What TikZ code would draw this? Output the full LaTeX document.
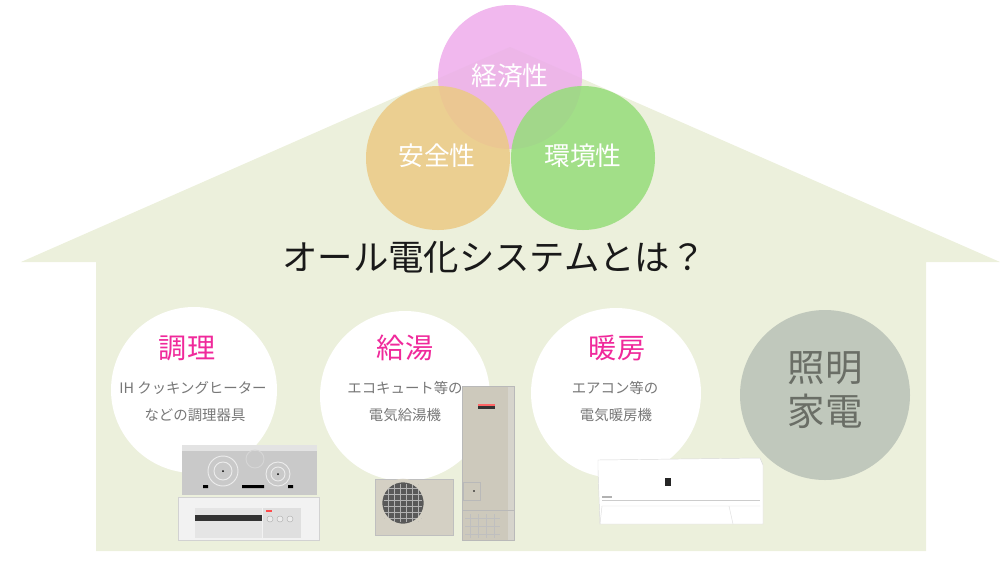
\documentclass[tikz,border=0pt]{standalone}
\usepackage{fontspec}
\setmainfont{Noto Sans CJK JP}
\definecolor{housegreen}{HTML}{ECF0DC}
\definecolor{keizaipink}{HTML}{EEACEB}
\definecolor{anzenorange}{HTML}{EBCA84}
\definecolor{kankyogreen}{HTML}{96DD7A}
\definecolor{headpink}{HTML}{F0299B}
\definecolor{subgray}{HTML}{777777}
\definecolor{lampgray}{HTML}{C0C8BC}
\definecolor{lamptext}{HTML}{6A6E66}
\definecolor{unitbeige}{HTML}{D4D0C4}
\definecolor{tankbeige}{HTML}{CDC9BC}
\tikzset{
  merit/.style={circle, inner sep=0pt, minimum size=4.32cm, fill opacity=0.85, text opacity=1,
    text=white, font=\fontsize{22}{26}\selectfont},
  usecircle/.style={circle, fill=white, inner sep=0pt, minimum size=5.0cm},
  usehead/.style={text=headpink, font=\fontsize{24}{28}\selectfont},
  usesub/.style={text=subgray, font=\fontsize{12.3}{15}\selectfont}
}
\begin{document}
\begin{tikzpicture}[x=0.03cm,y=-0.03cm]
\useasboundingbox (0,0) rectangle (1000,577);
% house
\fill[housegreen] (21,262) -- (510,47) -- (1000,262) -- (926,262) -- (926,551)
  -- (96,551) -- (96,262) -- cycle;

% three merits
\node[merit, fill=keizaipink] (keizai) at (510,77) {};
\node[merit, fill=anzenorange] (anzen) at (438,158) {};
\node[merit, fill=kankyogreen] (kankyo) at (583,158) {};
\node[text=white, font=\fontsize{22}{26}\selectfont] (keizailabel) at (510,76) {経済性};
\node[text=white, font=\fontsize{22}{26}\selectfont] (anzenlabel) at (437,156) {安全性};
\node[text=white, font=\fontsize{22}{26}\selectfont] (kankyolabel) at (583,156) {環境性};

\node[text=black!90, font=\fontsize{30.2}{34}\selectfont] (title) at (494,257) {オール電化システムとは？};

% uses
\node[usecircle, minimum size=4.98cm] (chouri) at (194,390) {};
\node[usecircle, minimum size=5.1cm] (kyuto) at (405,396) {};
\node[usecircle, minimum size=5.1cm] (danbou) at (616,393) {};
\node[circle, fill=lampgray, inner sep=0pt, minimum size=5.1cm] (shoumei) at (825,395) {};

\node[usehead] (chourihead) at (187,348) {調理};
\node[usesub] (chourisub1) at (193,388) {IH クッキングヒーター};
\node[usesub] (chourisub2) at (195,415) {などの調理器具};

\node[usehead] (kyutohead) at (405,348) {給湯};
\node[usesub] (kyutosub1) at (405,388) {エコキュート等の};
\node[usesub] (kyutosub2) at (405,415) {電気給湯機};

\node[usehead] (danbouhead) at (617,348) {暖房};
\node[usesub] (danbousub1) at (615,388) {エアコン等の};
\node[usesub] (danbousub2) at (616,415) {電気暖房機};

\node[text=lamptext, font=\fontsize{32}{37}\selectfont, align=center] (shoumeitext) at (825,390) {照明\\家電};

% IH cooker
\fill[gray!42] (182,445) rectangle (317,495);
\fill[gray!22] (182,445) rectangle (317,451);
\draw[gray!15, line width=0.8pt] (223,471) circle (15) (223,471) circle (9);
\draw[gray!15, line width=0.8pt] (278,474) circle (12) (278,474) circle (7);
\draw[gray!32, line width=0.8pt] (255,459) circle (9);
\fill[black] (223,471) circle (1) (278,474) circle (1);
\fill[black] (203,485) rectangle (208,488) (242,485) rectangle (264,488) (288,485) rectangle (293,488);
\fill[gray!10] (178,497) rectangle (319,540);
\draw[gray!35] (178,497) rectangle (319,540);
\fill[gray!20] (195,508) rectangle (262,538);
\fill[black!80] (195,515) rectangle (262,521);
\fill[gray!25] (263,508) rectangle (301,538);
\fill[red!70] (266,510) rectangle (272,512);
\foreach \k in {270,280,290}
  \draw[gray!60, fill=gray!15] (\k,519) circle (3);

% heat pump unit and tank
\fill[unitbeige] (375,479) rectangle (453,535);
\draw[gray!50] (375,479) rectangle (453,535);
\fill[black!65] (403,503) circle (21);
\foreach \g in {-15,-9,-3,3,9,15}
  \draw[gray!60, line width=0.3pt] (403+\g,484) -- (403+\g,522) (384,503+\g) -- (422,503+\g);
\draw[unitbeige, line width=3pt] (403,503) circle (22.5);
\fill[tankbeige] (462,386) rectangle (514,540);
\fill[black!10, opacity=0.4] (508,386) rectangle (514,540);
\draw[gray!55] (462,386) rectangle (514,540);
\fill[black!80] (478,405) rectangle (495,409);
\fill[red!60] (478,404) rectangle (495,405.5);
\draw[gray!55] (463,482) rectangle (480,500);
\fill[black] (474,491) circle (0.8);
\draw[gray!55] (462,510) -- (514,510);
\foreach \s in {470,478,486,494}
  \draw[gray!50, line width=0.3pt] (\s,514) -- (\s,538);
\foreach \s in {518,526,534}
  \draw[gray!50, line width=0.3pt] (465,\s) -- (500,\s);

% air conditioner
\fill[white] (598,460) -- (760,458) -- (763,465) -- (763,524) -- (600,524) -- (598,470) -- cycle;
\draw[gray!30] (598,460) -- (760,458) -- (763,465) -- (763,524) -- (600,524) -- (598,470) -- cycle;
\fill[black!85] (665,478) rectangle (671,486);
\draw[gray!40] (602,500) -- (760,500);
\draw[gray!25] (602,506) -- (600,524) (729,506) -- (733,524) (602,506) -- (760,506);
\fill[gray!60] (602,496) rectangle (612,497.5);
\end{tikzpicture}
\end{document}
